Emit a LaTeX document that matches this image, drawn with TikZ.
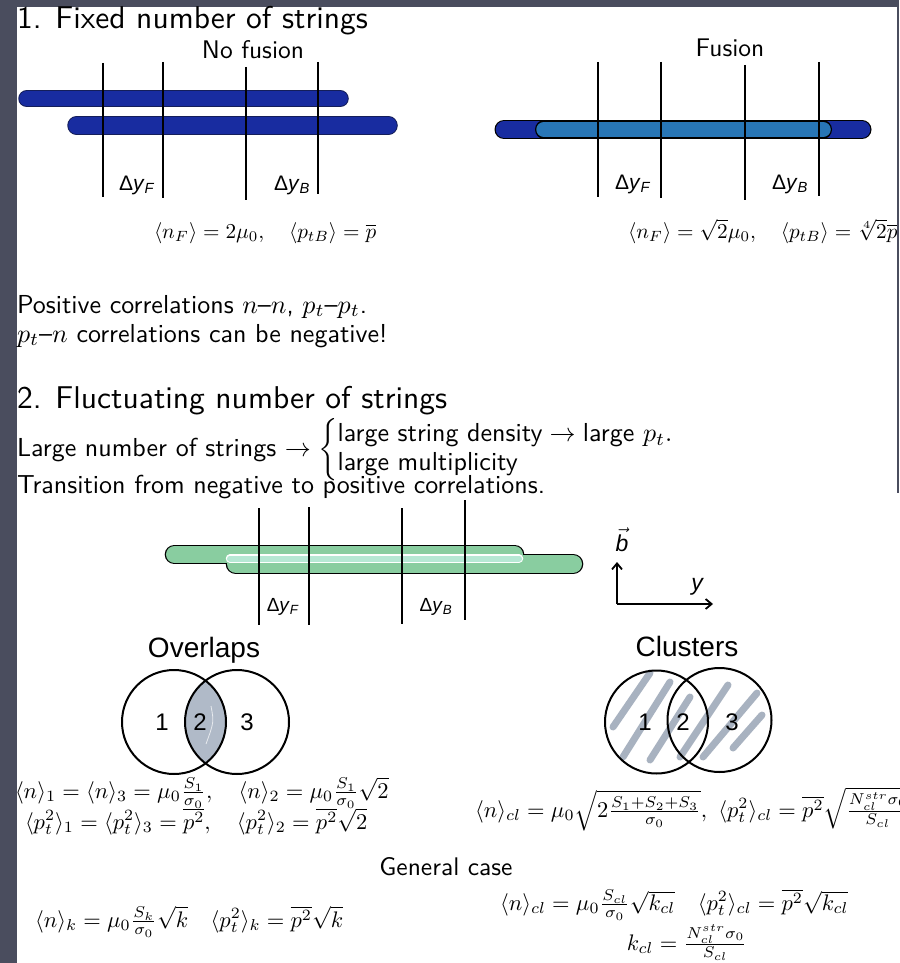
\documentclass[tikz,border=0pt]{standalone}
\usepackage{fontspec}
\usepackage{amsmath}
\usepackage{graphicx}
\newfontfamily\hv{Liberation Sans}
\usetikzlibrary{arrows.meta}
\definecolor{bgdark}{RGB}{74,77,94}
\definecolor{nfblue}{RGB}{24,44,160}
\definecolor{nfedge}{RGB}{20,30,90}
\definecolor{fuinner}{RGB}{40,118,182}
\definecolor{grn}{RGB}{137,205,160}
\definecolor{grnlight}{RGB}{182,232,212}
\definecolor{lens}{RGB}{176,186,200}
\definecolor{stripe}{RGB}{168,178,192}
\newcommand\sz[2]{\scalebox{#1}{\fontsize{10}{12}\selectfont\sffamily #2}}
\begin{document}
\begin{tikzpicture}[x=1pt,y=-1pt,
  every node/.style={inner sep=0pt,outer sep=0pt},
  bw/.style={anchor=base west},
  bc/.style={anchor=base},
  dlbl/.style={font=\fontsize{21}{24}\selectfont\hv,anchor=base},
  glbl/.style={font=\fontsize{19}{22}\selectfont\hv,anchor=base},
  hvttl/.style={font=\fontsize{28}{34}\selectfont\hv,anchor=base},
  num/.style={font=\fontsize{24}{28}\selectfont\hv,anchor=base},
  vline/.style={line width=1.4pt,black},
  circ/.style={line width=2pt,black},
  strp/.style={line width=7pt,line cap=round,stripe}]
\useasboundingbox (0,0) rectangle (899,963);
\fill[bgdark] (0,0) rectangle (899,963);
\fill[white] (17,7) rectangle (897,963);
\fill[white] (17,493) rectangle (899,963);

% ---------- Section 1 ----------
\node[bw] (t1) at (17,29) {\sz{3.15}{1. Fixed number of strings}};
\node[bc] (nofus) at (253,59) {\sz{2.55}{No fusion}};
\node[bc] (fus) at (730,57) {\sz{2.55}{Fusion}};

% no fusion strings
\draw[line width=17.5pt,line cap=round,nfedge] (27,98.7)--(340,98.7);
\draw[line width=15.5pt,line cap=round,nfblue] (27,98.7)--(340,98.7);
\draw[line width=18.5pt,line cap=round,nfedge] (76.5,125.5)--(388.5,125.5);
\draw[line width=16.5pt,line cap=round,nfblue] (76.5,125.5)--(388.5,125.5);
\draw[vline] (103,63)--(103,197);
\draw[vline] (163,62)--(163,198);
\draw[vline] (246,67)--(246,200);
\draw[vline] (318,62)--(318,194);
\node[dlbl] (dyf1) at (137,190) {Δ\textit{y}\textsubscript{\textit{F}}};
\node[dlbl] (dyb1) at (292,190) {Δ\textit{y}\textsubscript{\textit{B}}};

% fusion string
\draw[line width=19pt,line cap=round,black] (504,129.5)--(862,129.5);
\draw[line width=16.5pt,line cap=round,nfblue] (504,129.5)--(862,129.5);
\draw[line width=18pt,line cap=round,black] (544,129.5)--(823,129.5);
\draw[line width=15.5pt,line cap=round,fuinner] (544,129.5)--(823,129.5);
\draw[vline] (598,62)--(598,197);
\draw[vline] (661,62)--(661,198);
\draw[vline] (745,65)--(745,200);
\draw[vline] (819,62)--(819,196);
\node[dlbl] (dyf2) at (633,189) {Δ\textit{y}\textsubscript{\textit{F}}};
\node[dlbl] (dyb2) at (790,189) {Δ\textit{y}\textsubscript{\textit{B}}};

\node[bw] (f1) at (154,238) {\sz{2.12}{$\langle n_F\rangle = 2\mu_0,\quad \langle p_{tB}\rangle = \overline{p}$}};
\node[bw] (f2) at (628,238) {\sz{2.12}{$\langle n_F\rangle = \sqrt{2}\mu_0,\quad \langle p_{tB}\rangle = \sqrt[4]{2}\overline{p}$}};
\fill[bgdark] (897,0) rectangle (899,493);

% ---------- text ----------
\node[bw] (pos) at (17,313) {\sz{2.6}{Positive correlations $n$--$n$, $p_t$--$p_t$.}};
\node[bw] (neg) at (17,342) {\sz{2.6}{$p_t$--$n$ correlations can be negative!}};
\node[bw] (t2) at (17,408) {\sz{3.15}{2. Fluctuating number of strings}};
\node[bw] (large) at (17,456) {\sz{2.6}{Large number of strings $\rightarrow \left\{\begin{array}{@{}l@{}}\mbox{large string density} \rightarrow \mbox{large } p_t.\\[-1pt] \mbox{large multiplicity}\end{array}\right.$}};
\node[bw] (trans) at (17,493) {\sz{2.6}{Transition from negative to positive correlations.}};

% ---------- green strings ----------
\draw[line width=19.6pt,line cap=round,black] (174.5,554.5)--(514.5,554.5);
\draw[line width=20.6pt,line cap=round,black] (236,564)--(573,564);
\draw[line width=17pt,line cap=round,grn] (174.5,554.5)--(514.5,554.5);
\draw[line width=18pt,line cap=round,grn] (236,564)--(573,564);
\draw[line width=8.5pt,line cap=round,white] (230,558.5)--(519,558.5);
\draw[line width=6pt,line cap=round,grnlight] (230,558.5)--(519,558.5);
\draw[vline] (259,508)--(259,625);
\draw[vline] (309,507)--(309,625);
\draw[vline] (402,508)--(402,624);
\draw[vline] (465,500)--(465,620);
\node[glbl] (gf) at (283,611) {Δ\textit{y}\textsubscript{\textit{F}}};
\node[glbl] (gb) at (436,611) {Δ\textit{y}\textsubscript{\textit{B}}};

% axes
\coordinate (orig) at (617,604);
\coordinate (btip) at (617,562);
\coordinate (ytip) at (713,604);
\draw[line width=1.8pt,-{Straight Barb[length=6pt,width=10pt]}] (orig)--(btip);
\draw[line width=1.8pt,-{Straight Barb[length=6pt,width=10pt]}] (orig)--(ytip);
\node[font=\fontsize{23}{26}\selectfont\hv,anchor=base] (bvec) at (622,551) {$\vec{\mbox{\hv\itshape b}}$};
\node[font=\fontsize{23}{26}\selectfont\hv\itshape,anchor=base] (ylab) at (697,590) {y};

% ---------- overlaps ----------
\node[hvttl] (ovl) at (204,657) {Overlaps};
\begin{scope}
  \clip (174,722) circle (52);
  \fill[lens] (237,722) circle (52);
\end{scope}
\draw[white,opacity=0.7,line width=0.8pt] (211,706) .. controls (214,722) .. (206,744);
\draw[circ] (174,722) circle (52);
\draw[circ] (237,722) circle (52);
\node[num] (o1) at (162,730) {1};
\node[num] (o2) at (200,730) {2};
\node[num] (o3) at (247,730) {3};

% ---------- clusters ----------
\node[hvttl] (cls) at (687,656) {Clusters};
\draw[strp] (613,727)--(650,673);
\draw[strp] (623,757)--(670,682);
\draw[strp] (650,760)--(690,697);
\draw[strp] (680,757)--(728,685);
\draw[strp] (703,757)--(757,693);
\draw[strp] (733,748)--(762,715);
\draw[circ] (656.5,722) circle (51.5);
\draw[circ] (719.5,720) circle (52);
\node[num] (c1) at (645,730) {1};
\node[num] (c2) at (683,730) {2};
\node[num] (c3) at (732,730) {3};

% ---------- formulas ----------
\node[bw] (l1) at (15,798) {\sz{2.25}{$\langle n\rangle_1 = \langle n\rangle_3 = \mu_0\frac{S_1}{\sigma_0},\quad \langle n\rangle_2 = \mu_0\frac{S_1}{\sigma_0}\sqrt{2}$}};
\node[bw] (l2) at (25,829) {\sz{2.25}{$\langle p_t^2\rangle_1 = \langle p_t^2\rangle_3 = \overline{p^2},\quad \langle p_t^2\rangle_2 = \overline{p^2}\sqrt{2}$}};
\node[bw] (r1) at (475,817) {\sz{2.25}{$\langle n\rangle_{cl} = \mu_0\sqrt{2\frac{S_1+S_2+S_3}{\sigma_0}},\ \langle p_t^2\rangle_{cl} = \overline{p^2}\sqrt{\frac{N_{cl}^{str}\sigma_0}{S_{cl}}}$}};
\node[bc] (gen) at (446,875) {\sz{2.55}{General case}};
\node[bw] (k1) at (35,927) {\sz{2.25}{$\langle n\rangle_k = \mu_0\frac{S_k}{\sigma_0}\sqrt{k}\quad \langle p_t^2\rangle_k = \overline{p^2}\sqrt{k}$}};
\node[bw] (k2) at (500,910) {\sz{2.25}{$\langle n\rangle_{cl} = \mu_0\frac{S_{cl}}{\sigma_0}\sqrt{k_{cl}}\quad \langle p_t^2\rangle_{cl} = \overline{p^2}\sqrt{k_{cl}}$}};
\node[bc] (kcl) at (687,950) {\sz{2.25}{$k_{cl} = \frac{N_{cl}^{str}\sigma_0}{S_{cl}}$}};
\end{tikzpicture}
\end{document}
